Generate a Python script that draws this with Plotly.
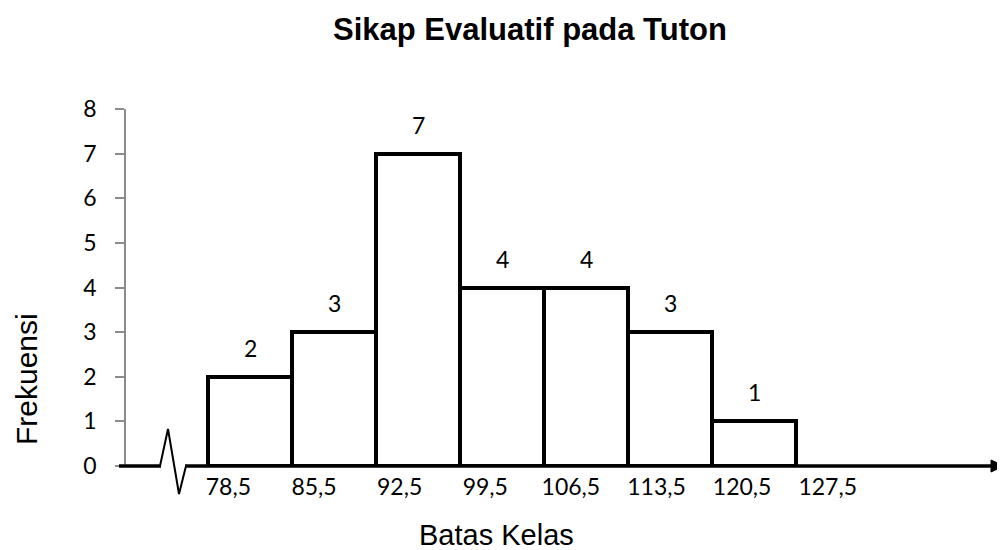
import plotly.graph_objects as go

# ── data ──
edges = [78.5, 85.5, 92.5, 99.5, 106.5, 113.5, 120.5, 127.5]
freq = [2, 3, 7, 4, 4, 3, 1]
edge_labels = ["78,5", "85,5", "92,5", "99,5", "106,5", "113,5", "120,5", "127,5"]
y_ticks = [0, 1, 2, 3, 4, 5, 6, 7, 8]

# page body adds an 8px margin, so the figure is drawn 8px smaller
OFF = 8
W, H = 1005 - OFF, 550 - OFF
L, R, T, B = 126 - OFF, 5, 109 - OFF, 84
PW, PH = W - L - R, H - T - B


def px(x):
    """reference pixel x -> paper x"""
    return (x - OFF - L) / PW


def py(y):
    """reference pixel y -> paper y"""
    return (H - B - (y - OFF)) / PH


width = edges[1] - edges[0]
mids = [e + width / 2 for e in edges[:-1]]
x_per_px = width / 84.0
x_lo = edges[0] - 82 * x_per_px
x_hi = x_lo + PW * x_per_px

TICK_FONT = dict(family="Lato", size=23, color="black")

fig = go.Figure()
fig.add_trace(
    go.Bar(
        x=mids, y=freq, width=width,
        marker=dict(color="white", line=dict(color="black", width=4)),
        showlegend=False, hoverinfo="x+y",
    )
)

# value labels above bars
for m, f in zip(mids, freq):
    fig.add_annotation(x=m, y=f, text=str(f), showarrow=False, yshift=29,
                       font=TICK_FONT)

# x-axis line with break symbol and arrow
fig.add_shape(type="path", xref="paper", yref="paper",
              path=f"M {px(119)} {py(466)} L {px(161)} {py(466)}",
              line=dict(color="black", width=3.5), layer="above")
fig.add_shape(type="path", xref="paper", yref="paper",
              path=(f"M {px(160)} {py(466)} L {px(168)} {py(429)} "
                    f"L {px(179)} {py(494)} L {px(186)} {py(466)}"),
              line=dict(color="black", width=2), layer="above")
fig.add_shape(type="path", xref="paper", yref="paper",
              path=f"M {px(185)} {py(466)} L {px(993)} {py(466)}",
              line=dict(color="black", width=3.5), layer="above")
fig.add_shape(type="path", xref="paper", yref="paper",
              path=f"M {px(991)} {py(460)} L {px(1004)} {py(466)} L {px(991)} {py(472)} Z",
              fillcolor="black", line=dict(color="black", width=1), layer="above")

# edge labels sit a little right of each boundary, as in the Excel original
fig.update_xaxes(
    range=[x_lo, x_hi],
    tickvals=[e + 1.7 + 0.135 * i for i, e in enumerate(edges)], ticktext=edge_labels,
    tickfont=TICK_FONT, ticklabelstandoff=5,
    showline=False, zeroline=False, showgrid=False, ticks="",
)
fig.update_yaxes(
    range=[0, 8], tickvals=y_ticks,
    tickfont=TICK_FONT, ticklabelstandoff=14,
    showline=True, linecolor="#8c8c8c", linewidth=1.5,
    ticks="outside", ticklen=9, tickcolor="#8c8c8c", tickwidth=1.5,
    zeroline=False, showgrid=False,
)

fig.add_annotation(text="Frekuensi", xref="paper", yref="paper",
                   x=px(26), y=py(379), xanchor="center", yanchor="middle",
                   textangle=-90, showarrow=False,
                   font=dict(family="Liberation Sans", size=30, color="black"))
fig.add_annotation(text="Batas Kelas", xref="paper", yref="paper",
                   x=px(496), y=py(535), xanchor="center", yanchor="middle",
                   showarrow=False,
                   font=dict(family="Liberation Sans", size=29, color="black"))
fig.add_annotation(text="<b>Sikap Evaluatif pada Tuton</b>", xref="paper", yref="paper",
                   x=px(530), y=py(30), xanchor="center", yanchor="middle",
                   showarrow=False,
                   font=dict(family="Liberation Sans", size=31, color="black"))

fig.update_layout(
    width=W, height=H,
    margin=dict(l=L, r=R, t=T, b=B),
    paper_bgcolor="white", plot_bgcolor="white",
    bargap=0,
)

fig.write_html("out.html")
